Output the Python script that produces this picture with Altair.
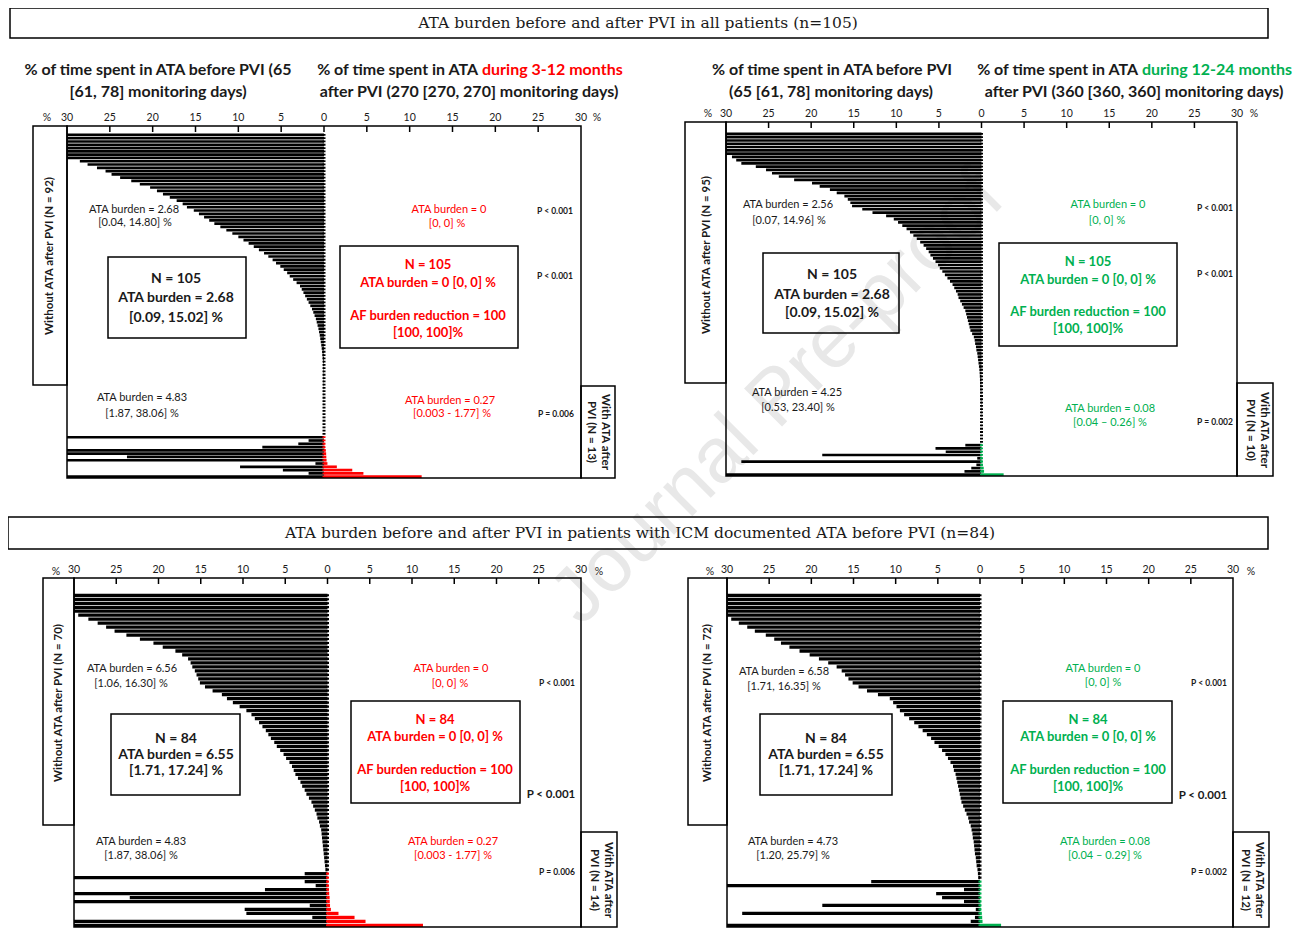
import altair as alt
import pandas as pd

# ------------------------------------------------------------------ data
TITLE_TOP = "ATA burden before and after PVI in all patients (n=105)"
TITLE_BOTTOM = "ATA burden before and after PVI in patients with ICM documented ATA before PVI (n=84)"
TICK_VALUES = [-30, -25, -20, -15, -10, -5, 0, 5, 10, 15, 20, 25, 30]

# top-left: before PVI vs 3-12 months after PVI (all patients)
TL_WO_BEFORE = [48.0, 45.0, 41.0, 39.0, 36.0, 34.0, 32.5, 31.0,
                28.5, 27.6, 26.5, 25.5, 24.8, 23.8, 22.5, 21.5, 20.3, 19.5,
                18.8, 18.0, 17.2, 16.5, 16.0, 15.2, 14.6, 14.0, 13.4, 12.8,
                12.1, 11.4, 10.7, 10.0, 9.4, 8.8, 8.2, 7.6, 7.0, 6.5,
                6.0, 5.6, 5.1, 4.7, 4.3, 4.0, 3.6, 3.2, 2.8, 2.6,
                2.4, 2.2, 2.0, 1.8, 1.6, 1.4, 1.25, 1.1, 0.95, 0.85,
                0.75, 0.65, 0.58, 0.5, 0.44, 0.38, 0.32, 0.27, 0.22, 0.18,
                0.14, 0.1, 0.09, 0.08, 0.07, 0.06, 0.05, 0.05, 0.04, 0.04,
                0.03, 0.03, 0.02, 0.02, 0.02, 0.01, 0.01, 0.01, 0.01, 0.005,
                0.005, 0.003, 0.002, 0.001]
TL_W_BEFORE = [40.0, 1.8, 3.0, 7.2, 45.0, 42.0, 23.0, 38.1, 1.0, 9.8, 4.8, 1.8, 39.0]
TL_W_AFTER = [0.003, 0.01, 0.05, 0.1, 0.2, 0.25, 0.27, 0.3, 0.4, 1.5, 3.3, 4.6, 11.4]

# top-right: before PVI vs 12-24 months after PVI (all patients)
TR_WO_BEFORE = [46.0, 43.0, 41.0, 38.0, 36.0, 34.0, 31.5,
                29.3, 28.8, 28.2, 26.5, 25.3, 24.6, 23.8, 22.0, 19.9, 19.0,
                17.8, 17.0, 16.1, 15.7, 15.4, 15.2, 14.0, 12.8, 11.2, 10.3,
                9.8, 9.3, 8.8, 8.4, 8.0, 7.6, 7.2, 6.8, 6.5, 6.2,
                6.0, 5.7, 5.4, 5.1, 4.9, 4.6, 4.3, 4.0, 3.7, 3.4,
                3.2, 3.0, 2.8, 2.7, 2.5, 2.3, 2.1, 1.9, 1.8, 1.7,
                1.6, 1.5, 1.4, 1.3, 1.1, 0.9, 0.8, 0.75, 0.65, 0.6,
                0.5, 0.45, 0.4, 0.35, 0.3, 0.25,
                0.22, 0.2, 0.18, 0.16, 0.14, 0.12, 0.1, 0.09, 0.08, 0.07,
                0.06, 0.05, 0.04, 0.03, 0.03, 0.02, 0.02, 0.01, 0.01, 0.005,
                0.003, 0.001]
TR_W_BEFORE = [1.9, 5.4, 4.2, 18.7, 0.5, 28.2, 0.6, 1.2, 2.0, 35.0]
TR_W_AFTER = [0.01, 0.02, 0.04, 0.06, 0.08, 0.09, 0.15, 0.26, 0.3, 2.6]

# bottom-left: ICM patients, 3-12 months
BL_WO_BEFORE = [46.0, 42.0, 39.0, 36.0, 33.0,
                29.5, 28.3, 27.2, 26.2, 25.2, 23.8, 22.2, 20.6, 19.5, 18.0,
                17.2, 16.5, 16.2, 16.0, 15.7, 15.5, 15.3, 15.1, 14.5, 13.6,
                12.5, 11.9, 11.2, 10.4, 9.6, 9.0, 8.6, 8.1, 7.7, 7.3,
                7.0, 6.7, 6.3, 6.0, 5.6, 5.2, 4.9, 4.5, 4.2, 4.0,
                3.8, 3.5, 3.2, 3.0, 2.7, 2.5, 2.2, 1.9, 1.7, 1.5,
                1.3, 1.2, 1.0, 0.9, 0.75, 0.7, 0.65, 0.6, 0.55, 0.5,
                0.45, 0.4, 0.35, 0.3, 0.25]
BL_W_BEFORE = [2.7, 40.0, 2.7, 1.4, 7.4, 45.0, 23.4, 42.0, 2.1, 9.8, 9.6, 1.8, 38.1, 39.0]
BL_W_AFTER = [0.003, 0.01, 0.05, 0.1, 0.15, 0.2, 0.25, 0.27, 0.3, 0.4, 1.3, 3.2, 4.5, 11.3]

# bottom-right: ICM patients, 12-24 months
BR_WO_BEFORE = [47.0, 44.0, 41.0, 38.0, 35.0, 32.0,
                29.5, 28.6, 27.6, 26.7, 25.4, 24.4, 23.6, 22.6, 21.4, 20.2,
                19.1, 18.0, 17.0, 16.4, 16.0, 15.6, 15.1, 14.4, 13.4, 12.1,
                10.7, 10.3, 9.9, 9.5, 9.0, 8.4, 7.8, 7.3, 6.8, 6.3,
                5.8, 5.4, 4.9, 4.5, 4.1, 3.8, 3.5, 3.2, 3.1, 2.9,
                2.8, 2.7, 2.6, 2.5, 2.4, 2.3, 2.2, 2.0, 1.8, 1.6,
                1.4, 1.3, 1.1, 1.0, 0.9, 0.85, 0.75, 0.7, 0.65, 0.6,
                0.5, 0.45, 0.4, 0.3, 0.25, 0.2]
BR_W_BEFORE = [12.9, 36.0, 1.9, 5.2, 4.5, 1.9, 18.7, 0.5, 28.2, 0.6, 1.1, 34.0]
BR_W_AFTER = [0.01, 0.02, 0.03, 0.04, 0.05, 0.07, 0.09, 0.12, 0.2, 0.26, 0.3, 2.5]

# ------------------------------------------------------------------ styles / layout
FONT = "Lato"
DARK = "#1a1a1a"
RED = "#ff0000"
GREEN = "#00b050"
PAGE = 8          # page margin: chart origin sits at (8, 8)
CHART_W, CHART_H = 1286, 921

SUB = 16     # panel headings
SM = 11      # small annotations
SB = 8.5     # small p-value text
PB = 11.5    # large p-value text
BX = 14      # left box text
RB = 13      # right box text
SIDE = 11.5  # rotated group labels
TK = 10.5    # tick labels
TITLE_FS = 15.5


def P(v):
    return v - PAGE


def T(t, X, Y, col=DARK, fs=SM, wt="normal", ang=0, al="center", font=FONT):
    return dict(t=t, px=P(X), py=P(Y), col=col, fs=fs, wt=wt, ang=ang, al=al, font=font)


def B(x0, y0, x1, y1):
    return dict(x0=P(x0), y0=P(y0), x1=P(x1), y1=P(y1))


def panel_layers(before_wo, before_w, after_w, accent, origin, w, h, padt):
    ox, oy = origin
    n_wo = len(before_wo)
    n = n_wo + len(before_w)
    recs = []
    for i, v in enumerate(before_wo):
        recs.append({"r": i, "before": v, "after": 0.0, "grp": "wo"})
    for j, (v, a) in enumerate(zip(before_w, after_w)):
        recs.append({"r": n_wo + j, "before": v, "after": a, "grp": "w"})
    df = pd.DataFrame(recs)
    df["xl"] = -df["before"].clip(upper=30)     # bars longer than the axis are cut at 30 %
    df["xz"] = 0.0
    df["xr"] = df["after"].clip(upper=30)
    df["y0"] = df["r"] + 0.18
    df["y1"] = df["r"] + 1.0
    df["s0"] = df["r"] + 0.3
    df["s1"] = df["r"] + 0.85
    df["sc"] = ["black" if g == "wo" else accent for g in df["grp"]]

    xs = alt.Scale(domain=[-30, 30], range=[P(ox), P(ox + w)], nice=False, zero=False)
    ys = alt.Scale(domain=[-padt, n], range=[P(oy), P(oy + h)], nice=False, zero=False)
    base = alt.Chart(df)
    left = base.mark_rect(color="black").encode(
        x=alt.X("xl:Q", scale=xs, axis=None), x2="xz",
        y=alt.Y("y0:Q", scale=ys, axis=None), y2="y1")
    right = base.transform_filter("datum.grp == 'w'").mark_rect(color=accent).encode(
        x=alt.X("xz:Q", scale=xs, axis=None), x2="xr",
        y=alt.Y("y0:Q", scale=ys, axis=None), y2="y1")
    stub = base.mark_rect(fillOpacity=0, strokeWidth=3).encode(
        x=alt.X("xz:Q", scale=xs, axis=None), x2="xz",
        y=alt.Y("s0:Q", scale=ys, axis=None), y2="s1",
        stroke=alt.Stroke("sc:N", scale=None))
    tdf = pd.DataFrame({"tv": TICK_VALUES, "lab": [str(abs(v)) for v in TICK_VALUES]})
    ticks = alt.Chart(tdf).transform_filter("abs(datum.tv) < 30").mark_rule(
        color="black", strokeWidth=1.5).encode(
        x=alt.X("tv:Q", scale=xs, axis=None), y=alt.value(P(oy)), y2=alt.value(P(oy) + 6))
    labels = alt.Chart(tdf).mark_text(font=FONT, fontSize=TK, color=DARK, baseline="middle").encode(
        x=alt.X("tv:Q", scale=xs, axis=None), y=alt.value(P(oy) - 8), text="lab:N")
    return [left, right, stub, ticks, labels]


texts = [
    # titles
    T(TITLE_TOP, 638, 23, fs=TITLE_FS, font="DejaVu Serif"),
    T(TITLE_BOTTOM, 640, 533, fs=TITLE_FS, font="DejaVu Serif"),
    # ---- top-left
    T("% of time spent in ATA before PVI  (65", 158, 70, fs=SUB, wt="bold"),
    T("[61, 78] monitoring days)", 158, 92, fs=SUB, wt="bold"),
    T("% of time spent in ATA", 478, 70, fs=SUB, wt="bold", al="right"),
    T("during 3-12 months", 482, 70, col=RED, fs=SUB, wt="bold", al="left"),
    T("after PVI (270 [270, 270] monitoring days)", 469, 92, fs=SUB, wt="bold"),
    T("%", 47, 118, fs=TK), T("%", 597, 118, fs=TK),
    T("Without ATA after PVI (N = 92)", 50, 256, fs=SIDE, wt="bold", ang=270),
    T("With ATA after", 605, 432, fs=SIDE, wt="bold", ang=90),
    T("PVI (N = 13)", 591, 432, fs=SIDE, wt="bold", ang=90),
    T("ATA burden = 2.68", 134, 210), T("[0.04, 14.80] %", 135, 223),
    T("N = 105", 176, 279, fs=BX, wt="bold"),
    T("ATA burden = 2.68", 176, 298, fs=BX, wt="bold"),
    T("[0.09, 15.02] %", 176, 318, fs=BX, wt="bold"),
    T("ATA burden = 4.83", 142, 398), T("[1.87, 38.06] %", 142, 414),
    T("ATA burden = 0", 449, 210, col=RED), T("[0, 0] %", 447, 224, col=RED),
    T("N = 105", 428, 265, col=RED, fs=RB, wt="bold"),
    T("ATA burden = 0 [0, 0] %", 428, 283, col=RED, fs=RB, wt="bold"),
    T("AF burden reduction = 100", 428, 316, col=RED, fs=RB, wt="bold"),
    T("[100, 100]%", 428, 333, col=RED, fs=RB, wt="bold"),
    T("ATA burden = 0.27", 450, 401, col=RED), T("[0.003 - 1.77] %", 452, 414, col=RED),
    T("P < 0.001", 555, 211, fs=SB, wt="bold"),
    T("P < 0.001", 555, 276, fs=SB, wt="bold"),
    T("P = 0.006", 556, 414, fs=SB, wt="bold"),
    # ---- top-right
    T("% of time spent in ATA before PVI", 832, 70, fs=SUB, wt="bold"),
    T("(65 [61, 78] monitoring days)", 831, 92, fs=SUB, wt="bold"),
    T("% of time spent in ATA", 1138, 70, fs=SUB, wt="bold", al="right"),
    T("during 12-24 months", 1142, 70, col=GREEN, fs=SUB, wt="bold", al="left"),
    T("after PVI (360 [360, 360] monitoring days)", 1134, 92, fs=SUB, wt="bold"),
    T("%", 708, 114, fs=TK), T("%", 1254, 114, fs=TK),
    T("Without ATA after PVI (N = 95)", 707, 255, fs=SIDE, wt="bold", ang=270),
    T("With ATA after", 1264, 430, fs=SIDE, wt="bold", ang=90),
    T("PVI (N = 10)", 1250, 430, fs=SIDE, wt="bold", ang=90),
    T("ATA burden = 2.56", 788, 205), T("[0.07, 14.96] %", 789, 221),
    T("N = 105", 832, 275, fs=BX, wt="bold"),
    T("ATA burden = 2.68", 832, 295, fs=BX, wt="bold"),
    T("[0.09, 15.02] %", 832, 313, fs=BX, wt="bold"),
    T("ATA burden = 4.25", 797, 393), T("[0.53, 23.40] %", 798, 408),
    T("ATA burden = 0", 1108, 205, col=GREEN), T("[0, 0] %", 1107, 221, col=GREEN),
    T("N = 105", 1088, 262, col=GREEN, fs=RB, wt="bold"),
    T("ATA burden = 0 [0, 0] %", 1088, 280, col=GREEN, fs=RB, wt="bold"),
    T("AF burden reduction = 100", 1088, 312, col=GREEN, fs=RB, wt="bold"),
    T("[100, 100]%", 1088, 329, col=GREEN, fs=RB, wt="bold"),
    T("ATA burden = 0.08", 1110, 409, col=GREEN), T("[0.04 \u2013 0.26] %", 1110, 423, col=GREEN),
    T("P < 0.001", 1215, 208, fs=SB, wt="bold"),
    T("P < 0.001", 1215, 274, fs=SB, wt="bold"),
    T("P = 0.002", 1215, 422, fs=SB, wt="bold"),
    # ---- bottom-left
    T("%", 56, 572, fs=TK), T("%", 599, 572, fs=TK),
    T("Without ATA after PVI (N = 70)", 59, 703, fs=SIDE, wt="bold", ang=270),
    T("With ATA after", 608, 880, fs=SIDE, wt="bold", ang=90),
    T("PVI (N = 14)", 594, 880, fs=SIDE, wt="bold", ang=90),
    T("ATA burden = 6.56", 132, 669), T("[1.06, 16.30] %", 131, 684),
    T("N = 84", 176, 739, fs=BX, wt="bold"),
    T("ATA burden = 6.55", 176, 755, fs=BX, wt="bold"),
    T("[1.71, 17.24] %", 176, 771, fs=BX, wt="bold"),
    T("ATA burden = 4.83", 141, 842), T("[1.87, 38.06] %", 141, 856),
    T("ATA burden = 0", 451, 669, col=RED), T("[0, 0] %", 450, 684, col=RED),
    T("N = 84", 435, 720, col=RED, fs=RB, wt="bold"),
    T("ATA burden = 0 [0, 0] %", 435, 737, col=RED, fs=RB, wt="bold"),
    T("AF burden reduction = 100", 435, 770, col=RED, fs=RB, wt="bold"),
    T("[100, 100]%", 435, 787, col=RED, fs=RB, wt="bold"),
    T("ATA burden = 0.27", 453, 842, col=RED), T("[0.003 - 1.77] %", 453, 856, col=RED),
    T("P < 0.001", 557, 683, fs=SB, wt="bold"),
    T("P < 0.001", 551, 795, fs=PB, wt="bold"),
    T("P = 0.006", 557, 872, fs=SB, wt="bold"),
    # ---- bottom-right
    T("%", 710, 572, fs=TK), T("%", 1251, 572, fs=TK),
    T("Without ATA after PVI (N = 72)", 708, 703, fs=SIDE, wt="bold", ang=270),
    T("With ATA after", 1259, 880, fs=SIDE, wt="bold", ang=90),
    T("PVI (N = 12)", 1245, 880, fs=SIDE, wt="bold", ang=90),
    T("ATA burden = 6.58", 784, 672), T("[1.71, 16.35] %", 784, 687),
    T("N = 84", 826, 739, fs=BX, wt="bold"),
    T("ATA burden = 6.55", 826, 755, fs=BX, wt="bold"),
    T("[1.71, 17.24] %", 826, 771, fs=BX, wt="bold"),
    T("ATA burden = 4.73", 793, 842), T("[1.20, 25.79] %", 793, 856),
    T("ATA burden = 0", 1103, 669, col=GREEN), T("[0, 0] %", 1103, 683, col=GREEN),
    T("N = 84", 1088, 720, col=GREEN, fs=RB, wt="bold"),
    T("ATA burden = 0 [0, 0] %", 1088, 737, col=GREEN, fs=RB, wt="bold"),
    T("AF burden reduction = 100", 1088, 770, col=GREEN, fs=RB, wt="bold"),
    T("[100, 100]%", 1088, 787, col=GREEN, fs=RB, wt="bold"),
    T("ATA burden = 0.08", 1105, 842, col=GREEN), T("[0.04 \u2013 0.29] %", 1105, 856, col=GREEN),
    T("P < 0.001", 1209, 683, fs=SB, wt="bold"),
    T("P < 0.001", 1203, 796, fs=PB, wt="bold"),
    T("P = 0.002", 1209, 872, fs=SB, wt="bold"),
]

boxes = [
    B(10, 8, 1268, 38), B(8, 517, 1268, 549),                     # title boxes
    B(67, 126, 581, 478), B(726, 122, 1237, 476),                 # top frames
    B(74, 578, 581, 927), B(727, 578, 1233, 927),                 # bottom frames
    B(108, 257, 246, 338), B(340, 246, 518, 348), B(33, 126, 67, 385), B(581, 386, 615, 478),
    B(763, 253, 899, 333), B(999, 243, 1177, 346), B(685, 122, 726, 383), B(1237, 383, 1273, 476),
    B(111, 714, 240, 795), B(351, 701, 520, 803), B(43, 578, 74, 825), B(581, 832, 617, 927),
    B(760, 714, 892, 795), B(1003, 701, 1172, 803), B(688, 578, 727, 825), B(1233, 832, 1269, 927),
]

watermark = [T("Journal Pre-proof", 778, 398, col="#e8e8e8", fs=78, ang=315, font="Liberation Sans")]


def text_layers(items):
    tdf = pd.DataFrame(items)
    out = []
    for (wt, al, fnt), sub in tdf.groupby(["wt", "al", "font"]):
        out.append(alt.Chart(sub.reset_index(drop=True)).mark_text(
            fontWeight=wt, align=al, baseline="middle", font=fnt).encode(
            x=alt.X("px:Q", scale=None, axis=None),
            y=alt.Y("py:Q", scale=None, axis=None),
            text="t:N",
            color=alt.Color("col:N", scale=None),
            size=alt.Size("fs:Q", scale=None),
            angle=alt.Angle("ang:Q", scale=None)))
    return out


box_layer = alt.Chart(pd.DataFrame(boxes)).mark_rect(
    fillOpacity=0, stroke="black", strokeWidth=1.5).encode(
    x=alt.X("x0:Q", scale=None, axis=None), x2="x1",
    y=alt.Y("y0:Q", scale=None, axis=None), y2="y1")

layers = []
layers += text_layers(watermark)
layers += panel_layers(TL_WO_BEFORE, TL_W_BEFORE, TL_W_AFTER, RED, (67, 126), 514, 352, 2.13)
layers += panel_layers(TR_WO_BEFORE, TR_W_BEFORE, TR_W_AFTER, GREEN, (726, 122), 511, 354, 3.05)
layers += panel_layers(BL_WO_BEFORE, BL_W_BEFORE, BL_W_AFTER, RED, (74, 578), 507, 349, 3.77)
layers += panel_layers(BR_WO_BEFORE, BR_W_BEFORE, BR_W_AFTER, GREEN, (727, 578), 506, 349, 3.77)
layers.append(box_layer)
layers += text_layers(texts)

chart = alt.layer(*layers).resolve_scale(x="independent", y="independent").properties(
    width=CHART_W, height=CHART_H, padding=0, background="white",
    autosize=alt.AutoSizeParams(type="none")).configure_view(strokeWidth=0)

chart.save("out.html", embed_options={"renderer": "svg", "actions": False})
